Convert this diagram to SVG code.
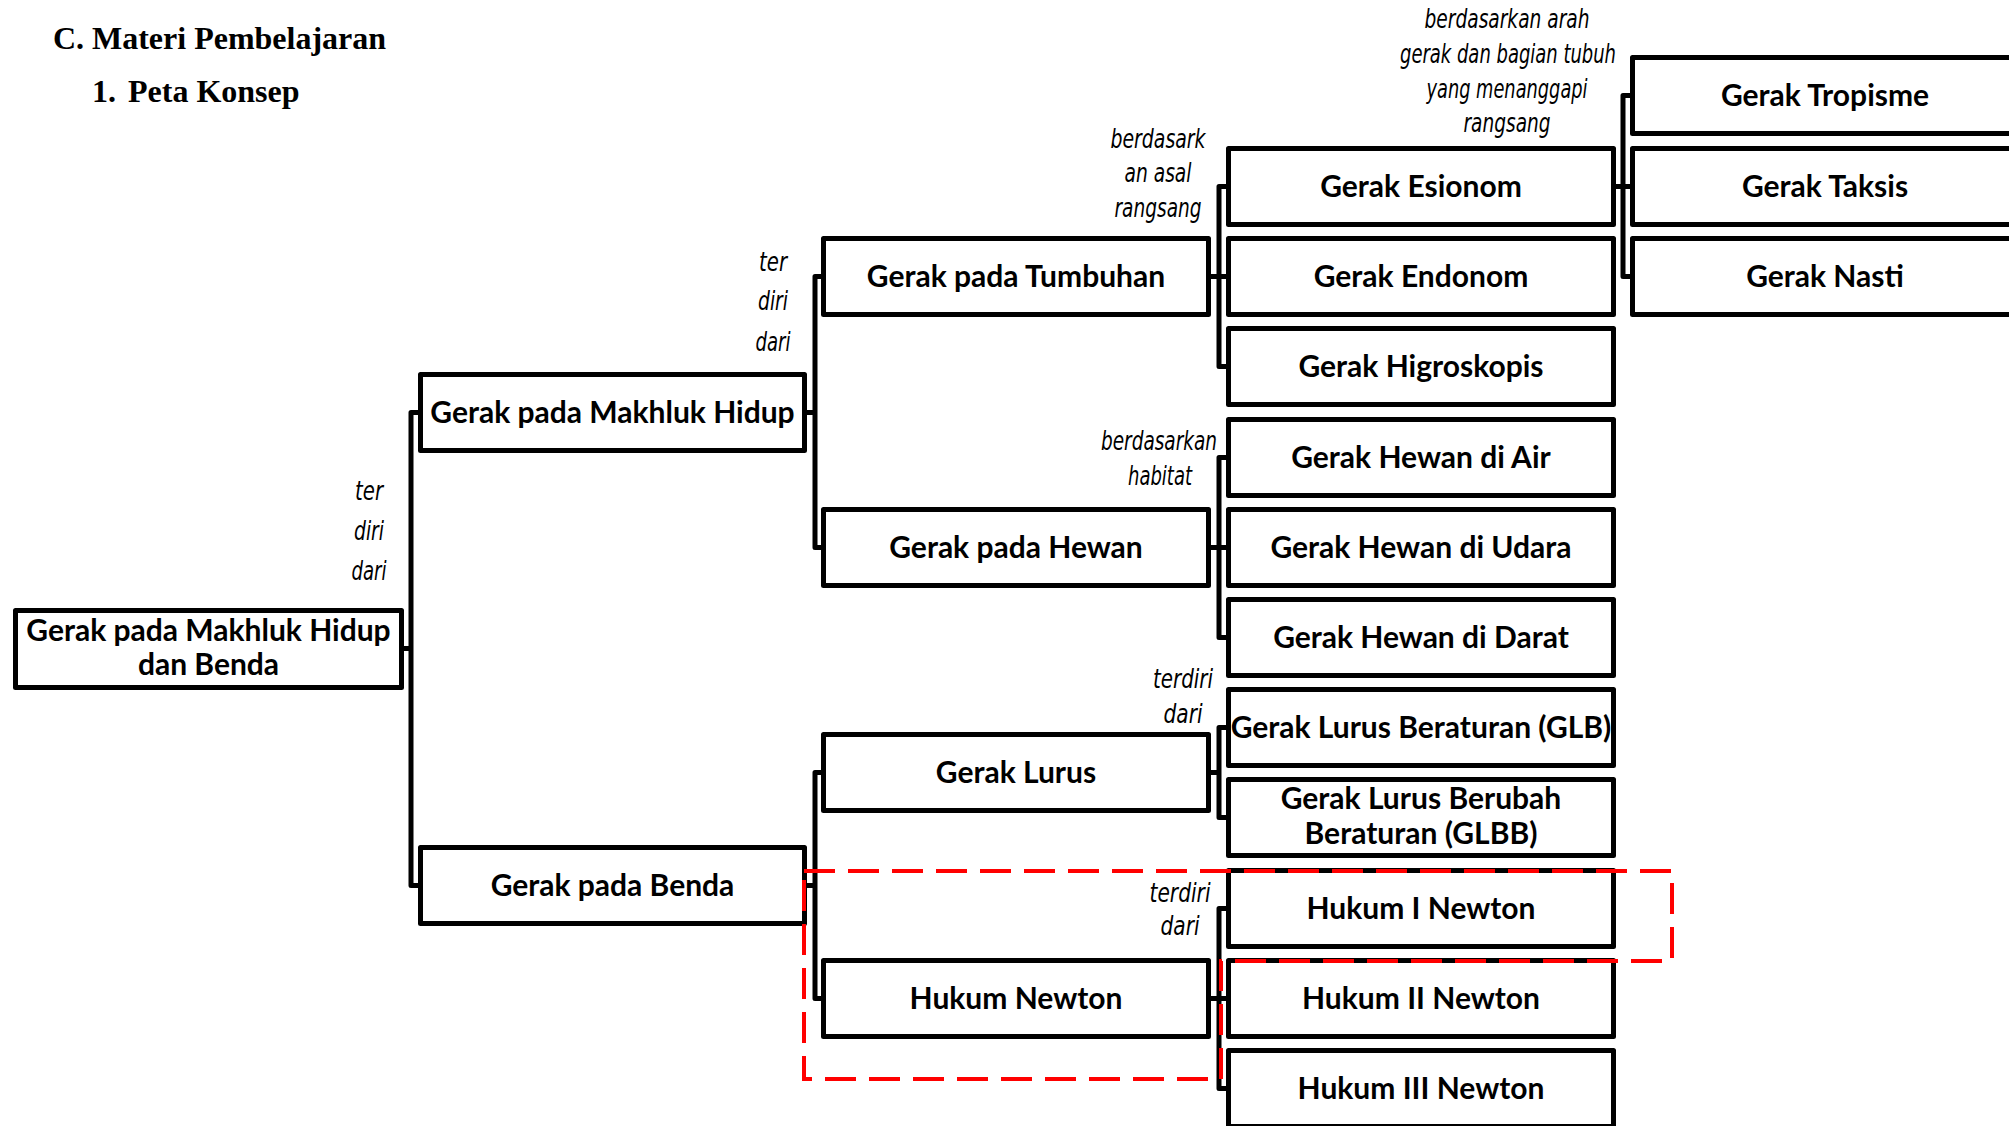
<svg xmlns="http://www.w3.org/2000/svg" width="2009" height="1126" viewBox="0 0 2009 1126">
  <style>
    .box { fill: #ffffff; stroke: #000000; stroke-width: 5; stroke-linejoin: round; }
    .lnk { fill: none; stroke: #000000; stroke-width: 5; stroke-linejoin: round; }
    .txt { font-family: "Lato", "Liberation Sans", sans-serif; font-weight: 700; font-size: 30px; fill: #000000; text-anchor: middle; }
    .lbl { font-family: "DejaVu Sans", sans-serif; font-stretch: condensed; font-style: italic; font-size: 27px; fill: #000000; text-anchor: middle; }
    .head { font-family: "Liberation Serif", "Times New Roman", serif; font-weight: 700; font-size: 32px; fill: #000000; }
    .focus { fill: none; stroke: #ff0000; stroke-width: 4; stroke-dasharray: 31 13; }
  </style>

  <rect x="0" y="0" width="2009" height="1126" fill="#ffffff"/>

  <!-- headings -->
  <g id="heading">
    <text class="head" x="53" y="49">C.</text>
    <text class="head" x="92" y="49">Materi Pembelajaran</text>
    <text class="head" x="92" y="102">1.</text>
    <text class="head" x="128" y="102">Peta Konsep</text>
  </g>

  <!-- bracket connectors -->
  <g id="connectors">
    <path class="lnk" d="M404,648.5 H411"/>
    <path class="lnk" d="M418,412.5 H411 V885.5 H418"/>
    <path class="lnk" d="M807,412.5 H815"/>
    <path class="lnk" d="M821,276.5 H815 V547.5 H821"/>
    <path class="lnk" d="M807,885.5 H815"/>
    <path class="lnk" d="M821,772.5 H815 V998.5 H821"/>
    <path class="lnk" d="M1211,276.5 H1226"/>
    <path class="lnk" d="M1226,186.5 H1219 V366.5 H1226"/>
    <path class="lnk" d="M1211,547.5 H1226"/>
    <path class="lnk" d="M1226,457.5 H1219 V637.5 H1226"/>
    <path class="lnk" d="M1211,772.5 H1219"/>
    <path class="lnk" d="M1226,727.5 H1219 V817.5 H1226"/>
    <path class="lnk" d="M1211,998.5 H1226"/>
    <path class="lnk" d="M1226,908.5 H1219 V1088.5 H1226"/>
    <path class="lnk" d="M1616,186.5 H1630"/>
    <path class="lnk" d="M1630,95.5 H1623 V276.5 H1630"/>
  </g>

  <!-- relation labels -->
  <g id="labels">
    <text class="lbl" x="369" y="500" textLength="28" lengthAdjust="spacingAndGlyphs">ter</text>
    <text class="lbl" x="369" y="540" textLength="30" lengthAdjust="spacingAndGlyphs">diri</text>
    <text class="lbl" x="369" y="580" textLength="35" lengthAdjust="spacingAndGlyphs">dari</text>

    <text class="lbl" x="773" y="271" textLength="28" lengthAdjust="spacingAndGlyphs">ter</text>
    <text class="lbl" x="773" y="310" textLength="30" lengthAdjust="spacingAndGlyphs">diri</text>
    <text class="lbl" x="773" y="351" textLength="35" lengthAdjust="spacingAndGlyphs">dari</text>

    <text class="lbl" x="1158" y="148" textLength="95" lengthAdjust="spacingAndGlyphs">berdasark</text>
    <text class="lbl" x="1158" y="182" textLength="67" lengthAdjust="spacingAndGlyphs">an asal</text>
    <text class="lbl" x="1158" y="217" textLength="87" lengthAdjust="spacingAndGlyphs">rangsang</text>

    <text class="lbl" x="1507" y="28" textLength="165" lengthAdjust="spacingAndGlyphs">berdasarkan arah</text>
    <text class="lbl" x="1508" y="63" textLength="216" lengthAdjust="spacingAndGlyphs">gerak dan bagian tubuh</text>
    <text class="lbl" x="1507" y="98" textLength="161" lengthAdjust="spacingAndGlyphs">yang menanggapi</text>
    <text class="lbl" x="1507" y="132" textLength="87" lengthAdjust="spacingAndGlyphs">rangsang</text>

    <text class="lbl" x="1159" y="450" textLength="116" lengthAdjust="spacingAndGlyphs">berdasarkan</text>
    <text class="lbl" x="1160" y="485" textLength="64" lengthAdjust="spacingAndGlyphs">habitat</text>

    <text class="lbl" x="1183" y="688" textLength="60" lengthAdjust="spacingAndGlyphs">terdiri</text>
    <text class="lbl" x="1183" y="723" textLength="39" lengthAdjust="spacingAndGlyphs">dari</text>

    <text class="lbl" x="1180" y="902" textLength="61" lengthAdjust="spacingAndGlyphs">terdiri</text>
    <text class="lbl" x="1180" y="935" textLength="39" lengthAdjust="spacingAndGlyphs">dari</text>
  </g>

  <!-- level 1 -->
  <g id="n-root">
    <rect class="box" x="15.5" y="610.5" width="386" height="77"/>
    <text class="txt" x="208.5" y="641">Gerak pada Makhluk Hidup</text>
    <text class="txt" x="208.5" y="675">dan Benda</text>
  </g>

  <!-- level 2 -->
  <g id="n-makhluk-hidup">
    <rect class="box" x="420.5" y="374.5" width="384" height="76"/>
    <text class="txt" x="612.5" y="423">Gerak pada Makhluk Hidup</text>
  </g>
  <g id="n-benda">
    <rect class="box" x="420.5" y="847.5" width="384" height="76"/>
    <text class="txt" x="612.5" y="896">Gerak pada Benda</text>
  </g>

  <!-- level 3 -->
  <g id="n-tumbuhan">
    <rect class="box" x="823.5" y="238.5" width="385" height="76"/>
    <text class="txt" x="1016" y="287">Gerak pada Tumbuhan</text>
  </g>
  <g id="n-hewan">
    <rect class="box" x="823.5" y="509.5" width="385" height="76"/>
    <text class="txt" x="1016" y="558">Gerak pada Hewan</text>
  </g>
  <g id="n-lurus">
    <rect class="box" x="823.5" y="734.5" width="385" height="76"/>
    <text class="txt" x="1016" y="783">Gerak Lurus</text>
  </g>
  <g id="n-hukum-newton">
    <rect class="box" x="823.5" y="960.5" width="385" height="76"/>
    <text class="txt" x="1016" y="1009">Hukum Newton</text>
  </g>

  <!-- level 4 -->
  <g id="n-esionom">
    <rect class="box" x="1228.5" y="148.5" width="385" height="76"/>
    <text class="txt" x="1421" y="197">Gerak Esionom</text>
  </g>
  <g id="n-endonom">
    <rect class="box" x="1228.5" y="238.5" width="385" height="76"/>
    <text class="txt" x="1421" y="287">Gerak Endonom</text>
  </g>
  <g id="n-higroskopis">
    <rect class="box" x="1228.5" y="328.5" width="385" height="76"/>
    <text class="txt" x="1421" y="377">Gerak Higroskopis</text>
  </g>
  <g id="n-air">
    <rect class="box" x="1228.5" y="419.5" width="385" height="76"/>
    <text class="txt" x="1421" y="468">Gerak Hewan di Air</text>
  </g>
  <g id="n-udara">
    <rect class="box" x="1228.5" y="509.5" width="385" height="76"/>
    <text class="txt" x="1421" y="558">Gerak Hewan di Udara</text>
  </g>
  <g id="n-darat">
    <rect class="box" x="1228.5" y="599.5" width="385" height="76"/>
    <text class="txt" x="1421" y="648">Gerak Hewan di Darat</text>
  </g>
  <g id="n-glb">
    <rect class="box" x="1228.5" y="689.5" width="385" height="76"/>
    <text class="txt" x="1421" y="738">Gerak Lurus Beraturan (GLB)</text>
  </g>
  <g id="n-glbb">
    <rect class="box" x="1228.5" y="779.5" width="385" height="76"/>
    <text class="txt" x="1421" y="809">Gerak Lurus Berubah</text>
    <text class="txt" x="1421" y="844">Beraturan (GLBB)</text>
  </g>
  <g id="n-hukum-1">
    <rect class="box" x="1228.5" y="870.5" width="385" height="76"/>
    <text class="txt" x="1421" y="919">Hukum I Newton</text>
  </g>
  <g id="n-hukum-2">
    <rect class="box" x="1228.5" y="960.5" width="385" height="76"/>
    <text class="txt" x="1421" y="1009">Hukum II Newton</text>
  </g>
  <g id="n-hukum-3">
    <rect class="box" x="1228.5" y="1050.5" width="385" height="76"/>
    <text class="txt" x="1421" y="1099">Hukum III Newton</text>
  </g>

  <!-- level 5 -->
  <g id="n-tropisme">
    <rect class="box" x="1632.5" y="57.5" width="385" height="76"/>
    <text class="txt" x="1825" y="106">Gerak Tropisme</text>
  </g>
  <g id="n-taksis">
    <rect class="box" x="1632.5" y="148.5" width="385" height="76"/>
    <text class="txt" x="1825" y="197">Gerak Taksis</text>
  </g>
  <g id="n-nasti">
    <rect class="box" x="1632.5" y="238.5" width="385" height="76"/>
    <text class="txt" x="1825" y="287">Gerak Nasti</text>
  </g>

  <!-- dashed red highlight around the Newton branch -->
  <path id="highlight" class="focus" d="M804,871 H1672 V961 H1221 V1079 H804 Z"/>
</svg>
